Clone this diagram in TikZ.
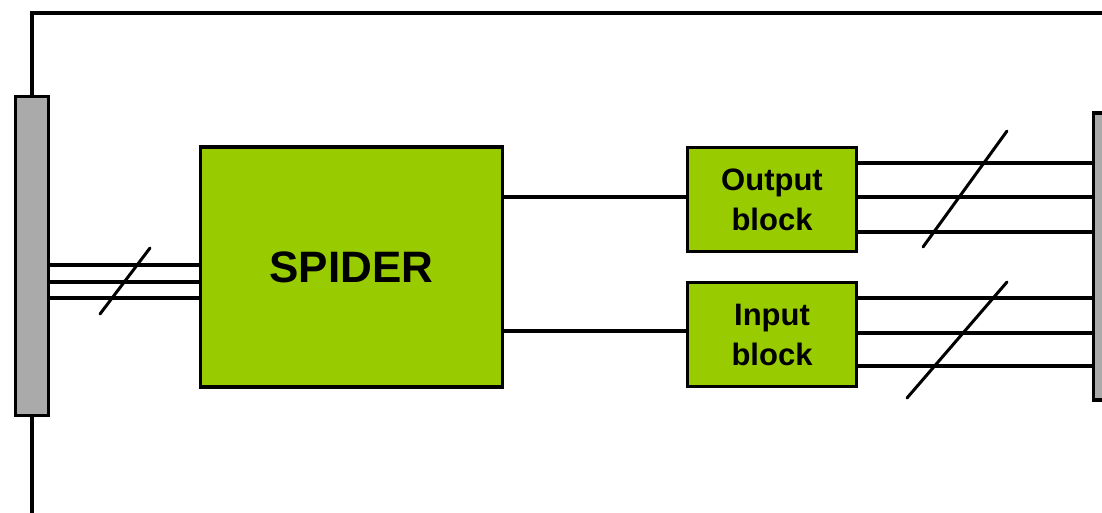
\documentclass[tikz,border=0pt]{standalone}
\usepackage{fontspec}
\setmainfont{Liberation Sans}
\definecolor{spgreen}{HTML}{99CC00}
\definecolor{bargray}{HTML}{AAAAAA}
\begin{document}
\begin{tikzpicture}[x=1pt,y=-1pt,
  box/.style={draw=black, line width=3.2pt, fill=spgreen, inner sep=0pt, align=center, font=\bfseries},
  bar/.style={draw=black, line width=3.2pt, fill=bargray, inner sep=0pt},
  wire/.style={line width=3.2pt},
  slash/.style={line width=3pt, line cap=round}]
\useasboundingbox[fill=white] (0,0) rectangle (1102,512);
% bars
\node[bar, minimum width=33pt, minimum height=319pt] (lbar) at (32,256) {};
\node[bar, minimum width=33pt, minimum height=287pt] (rbar) at (1110,256.5) {};
% blocks
\node[box, minimum width=302pt, minimum height=240pt, font=\bfseries\fontsize{44}{54}\selectfont] (spider) at (351.5,267) {SPIDER};
\node[box, minimum width=169pt, minimum height=104pt, font=\bfseries\fontsize{31}{40}\selectfont] (out) at (772,199.5) {Output\\block};
\node[box, minimum width=169pt, minimum height=104pt, font=\bfseries\fontsize{31}{40}\selectfont] (in) at (772,334.5) {Input\\block};
% frame wires
\coordinate (tr) at (1110,13);
\coordinate (bot) at (32,520);
\draw[wire] (lbar.north) |- (tr) -- (rbar.north);
\draw[wire] (lbar.south) -- (bot);
% left bundle
\foreach \y in {265,282,298}{
  \coordinate (a) at (0,\y);
  \draw[wire] (lbar.east |- a) -- (spider.west |- a);
}
\coordinate (s1a) at (100,314);
\coordinate (s1b) at (150,248);
\draw[slash] (s1a) -- (s1b);
% spider to blocks
\coordinate (c1) at (0,197);
\coordinate (c2) at (0,331);
\draw[wire] (spider.east |- c1) -- (out.west |- c1);
\draw[wire] (spider.east |- c2) -- (in.west |- c2);
% right bundles
\foreach \y in {163,197,232}{
  \coordinate (a) at (0,\y);
  \draw[wire] (out.east |- a) -- (rbar.west |- a);
}
\foreach \y in {298,333,366}{
  \coordinate (a) at (0,\y);
  \draw[wire] (in.east |- a) -- (rbar.west |- a);
}
\coordinate (s2a) at (923,247);
\coordinate (s2b) at (1007,131);
\draw[slash] (s2a) -- (s2b);
\coordinate (s3a) at (907,398);
\coordinate (s3b) at (1007,282);
\draw[slash] (s3a) -- (s3b);
\end{tikzpicture}
\end{document}
